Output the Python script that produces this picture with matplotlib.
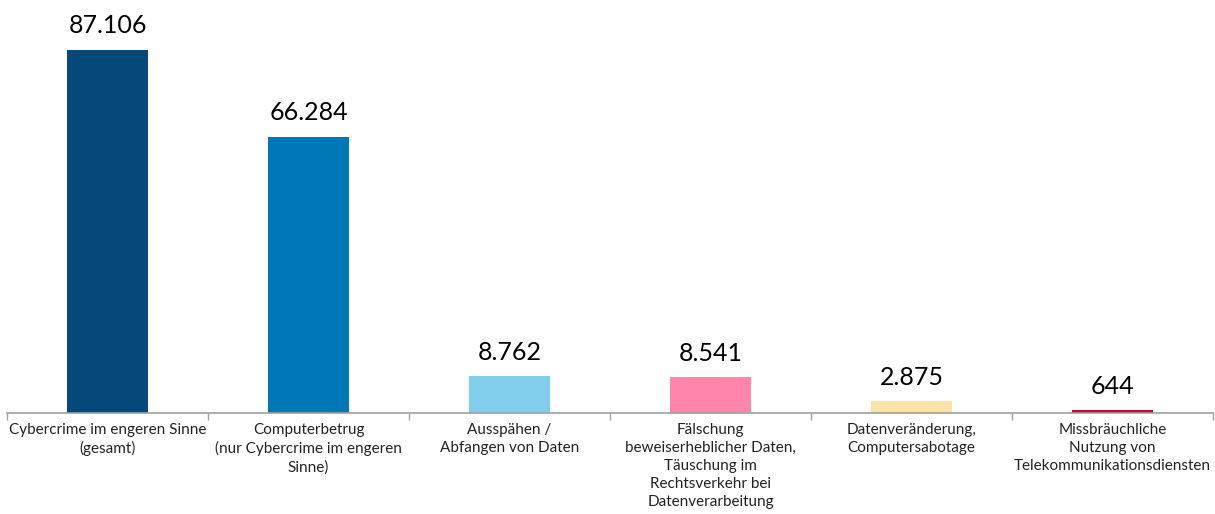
import numpy as np
import matplotlib.pyplot as plt

categories = [
    "Cybercrime im engeren Sinne\n(gesamt)",
    "Computerbetrug\n(nur Cybercrime im engeren\nSinne)",
    "Ausspähen /\nAbfangen von Daten",
    "Fälschung\nbeweiserheblicher Daten,\nTäuschung im\nRechtsverkehr bei\nDatenverarbeitung",
    "Datenveränderung,\nComputersabotage",
    "Missbräuchliche\nNutzung von\nTelekommunikationsdiensten",
]
values = [87106, 66284, 8762, 8541, 2875, 644]
value_labels = ["87.106", "66.284", "8.762", "8.541", "2.875", "644"]
colors = ["#03497A", "#0077B7", "#81CDEC", "#FF85AA", "#FBE2A8", "#C6003D"]

plt.rcParams['font.family'] = ['Lato', 'DejaVu Sans']

fig = plt.figure(figsize=(12.15, 5.14), dpi=100)
ax = fig.add_axes([7 / 1215, 101 / 514, 1206 / 1215, 413 / 514])

x = np.arange(len(values))
ax.bar(x, values, width=0.4, color=colors)
for xi, v, lab in zip(x, values, value_labels):
    ax.text(xi, v + 3000, lab, ha='center', va='bottom', fontsize=18, color='black')

ax.set_xlim(-0.5, len(values) - 0.5)
ax.set_ylim(0, 87106 * 413 / 363)

ax.set_xticks(x)
ax.set_xticklabels(categories, fontsize=11, color='#222222', linespacing=1.38)
ax.set_xticks(np.arange(len(values) + 1) - 0.5, minor=True)
ax.tick_params(axis='x', which='major', length=0, pad=7)
ax.tick_params(axis='x', which='minor', length=5, color='#A0A0A0', width=1)
ax.set_yticks([])

for s in ['top', 'right', 'left']:
    ax.spines[s].set_visible(False)
ax.spines['bottom'].set_color('#A0A0A0')
ax.spines['bottom'].set_linewidth(1.2)

fig.savefig("out.png", dpi=100)
